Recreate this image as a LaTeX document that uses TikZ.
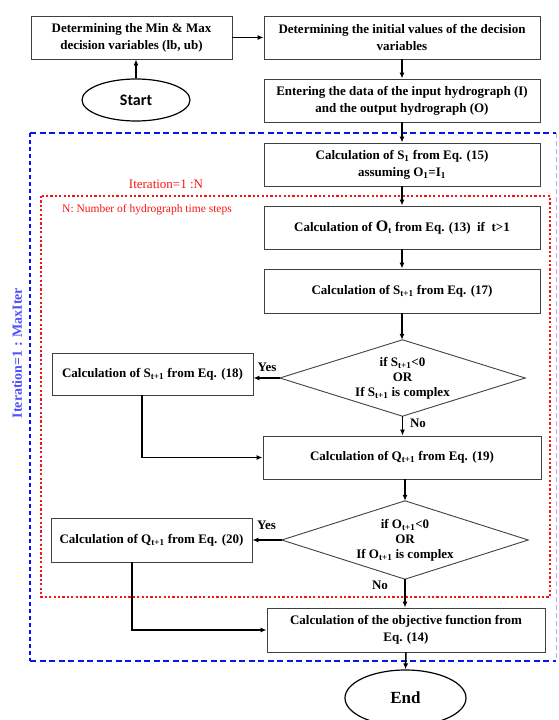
\documentclass[tikz,border=0pt]{standalone}
\usepackage{fontspec}
\setmainfont{Liberation Serif}
\newfontfamily\startfont{Carlito}
\usetikzlibrary{arrows.meta,shapes.geometric}
\definecolor{frameblue}{RGB}{10,20,240}
\definecolor{textblue}{RGB}{80,80,250}
\definecolor{framered}{RGB}{250,20,20}
\begin{document}
\begin{tikzpicture}[x=1pt,y=-1pt,
  box/.style={draw=black!75, line width=0.9pt, fill=white, align=center, inner sep=0pt,
    font=\fontsize{13}{17}\selectfont\bfseries},
  dia/.style={draw=none, align=center, inner sep=0pt,
    font=\fontsize{13}{15}\selectfont\bfseries},
  diaedge/.style={draw=black!75, line width=0.9pt},
  arr/.style={line width=1.5pt, -{Latex[length=6pt,width=5pt]}},
  lbl/.style={inner sep=0pt, font=\fontsize{13}{13}\selectfont\bfseries},
  oval/.style={draw, ellipse, line width=1.2pt, inner sep=0pt},
  redtxt/.style={text=framered, inner sep=0pt},
  bluedashh/.style={draw=frameblue, line width=2.8pt, dash pattern=on 6pt off 3.5pt},
  bluedashv/.style={draw=frameblue, line width=2.8pt, dash pattern=on 3.5pt off 3.5pt},
  bluelight/.style={draw=frameblue!35, line width=0.8pt, dash pattern=on 5pt off 3pt},
  reddot/.style={draw=framered, line width=1.5pt, dash pattern=on 2.2pt off 2.2pt}
]
\useasboundingbox (0,0) rectangle (558,720);

% frames
\draw[bluedashh] (30,133) -- (556,133);
\draw[bluedashh] (30,661) -- (556,661);
\draw[bluedashv] (30,133) -- (30,661);
\draw[bluelight] (556,133) -- (556,661);
\draw[reddot] (41,196) rectangle (550,597);

\node[rotate=90, text=textblue, inner sep=0pt, font=\fontsize{14}{14}\selectfont\bfseries] (outerlbl) at (17,353) {Iteration=1 : MaxIter};
\node[redtxt, font=\fontsize{13}{13}\selectfont] (innerlbl) at (166,184) {Iteration=1 :N};
\node[redtxt, anchor=west, font=\fontsize{11.5}{12}\selectfont] (nlbl) at (62,210) {N: Number of hydrograph time steps};

% nodes
\node[box, minimum width=201pt, minimum height=43pt] (b1) at (131.5,37.5) {Determining the Min \& Max\\decision variables (lb, ub)};
\node[box, minimum width=276pt, minimum height=43pt] (b2) at (402,37.5) {Determining the initial values of the decision\\variables};
\node[oval, minimum width=108pt, minimum height=42pt] (start) at (136,100) {\startfont\bfseries\fontsize{16}{16}\selectfont Start};
\node[box, minimum width=276pt, minimum height=43pt] (b3) at (402,100.5) {Entering the data of the input hydrograph (I)\\and the output hydrograph (O)};
\node[box, minimum width=276pt, minimum height=43pt] (b4) at (402,164.5) {Calculation of S\textsubscript{1} from Eq. (15)\\assuming O\textsubscript{1}=I\textsubscript{1}};
\node[box, minimum width=276pt, minimum height=43pt] (b5) at (402,227.5) {Calculation of {\fontsize{16}{16}\selectfont O}\textsubscript{t} from Eq. (13)\ \ if\ \ t>1};
\node[box, minimum width=276pt, minimum height=44pt] (b6) at (402,291) {Calculation of S\textsubscript{t+1} from Eq. (17)};
\node[dia, minimum width=245pt, minimum height=76pt] (d1) at (402.5,378) {if S\textsubscript{t+1}<0\\OR\\If S\textsubscript{t+1} is complex};
\draw[diaedge] (d1.north) -- (d1.east) -- (d1.south) -- (d1.west) -- cycle;
\node[box, minimum width=201pt, minimum height=42pt] (b7) at (152.5,374) {Calculation of S\textsubscript{t+1} from Eq. (18)};
\node[box, minimum width=278pt, minimum height=43pt] (b8) at (402,457.5) {Calculation of Q\textsubscript{t+1} from Eq. (19)};
\node[dia, minimum width=246pt, minimum height=78pt] (d2) at (405,540) {if O\textsubscript{t+1}<0\\OR\\If O\textsubscript{t+1} is complex};
\draw[diaedge] (d2.north) -- (d2.east) -- (d2.south) -- (d2.west) -- cycle;
\node[box, minimum width=201pt, minimum height=44pt] (b9) at (151.5,540) {Calculation of Q\textsubscript{t+1} from Eq. (20)};
\node[box, minimum width=278pt, minimum height=44pt] (b10) at (406,630) {Calculation of the objective function from\\Eq. (14)};
\node[oval, minimum width=121pt, minimum height=56pt] (end) at (405.5,698) {\bfseries\fontsize{17}{17}\selectfont End};

% connectors
\draw[arr] (start.north) -- (start.north |- b1.south);
\draw[arr] (b1) -- (b2);
\draw[arr] (b2) -- (b3);
\draw[arr] (b3) -- (b4);
\draw[arr] (b4) -- (b5);
\draw[arr] (b5) -- (b6);
\draw[arr] (b6.south) -- (b6.south |- d1.north);
\draw[arr] (d1.west) -- (d1.west -| b7.east);
\draw[arr] (d1.south) -- (d1.south |- b8.north);
\draw[arr] ([xshift=-10.5pt]b7.south) |- (b8.west);
\draw[arr] (d2.north |- b8.south) -- (d2.north);
\draw[arr] (d2.west) -- (d2.west -| b9.east);
\draw[arr] (d2.south) -- (d2.south |- b10.north);
\draw[arr] ([xshift=-19.5pt]b9.south) |- (b10.west);
\draw[arr] (b10.south) -- (end.north);

% labels
\node[lbl] (yes1) at (267,367) {Yes};
\node[lbl] (no1) at (418,423) {No};
\node[lbl] (yes2) at (266.5,525) {Yes};
\node[lbl] (no2) at (380,585) {No};
\end{tikzpicture}
\end{document}
